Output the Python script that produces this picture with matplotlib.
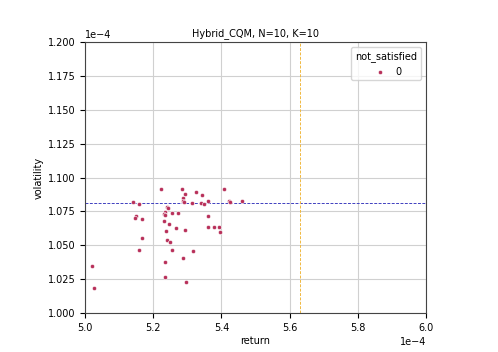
import numpy as np
import matplotlib.pyplot as plt
import matplotlib.ticker as mticker

# returns (x 1e-4) and volatility (x 1e-4)
ret = [5.020, 5.026, 5.223, 5.284, 5.293, 5.326, 5.344, 5.408, 5.141, 5.159,
       5.288, 5.288, 5.291, 5.314, 5.340, 5.348, 5.361, 5.422, 5.425, 5.460,
       5.241, 5.244, 5.235, 5.233, 5.234, 5.255, 5.272, 5.150, 5.148, 5.166,
       5.362, 5.231, 5.247, 5.268, 5.294, 5.238, 5.361, 5.377, 5.392, 5.395,
       5.167, 5.240, 5.250, 5.159, 5.255, 5.318, 5.287, 5.234, 5.235, 5.297]
vol = [1.0345, 1.0187, 1.0913, 1.0913, 1.0878, 1.0893, 1.0871, 1.0913, 1.0817, 1.0807,
       1.0847, 1.0827, 1.0821, 1.0812, 1.0812, 1.0802, 1.0827, 1.0827, 1.0817, 1.0827,
       1.0782, 1.0777, 1.0745, 1.0733, 1.0721, 1.0738, 1.0738, 1.0718, 1.0699, 1.0692,
       1.0714, 1.0681, 1.0657, 1.0625, 1.0610, 1.0603, 1.0632, 1.0632, 1.0637, 1.0600,
       1.0551, 1.0537, 1.0526, 1.0463, 1.0463, 1.0460, 1.0406, 1.0376, 1.0268, 1.0227]

target_vol = 1.0815   # blue dashed line
target_ret = 5.63     # orange dashed line

x = np.array(ret) * 1e-4
y = np.array(vol) * 1e-4


class FixedSci(mticker.ScalarFormatter):
    # sci notation with a fixed number of decimals
    def __init__(self, fmt):
        super().__init__()
        self._f = fmt

    def _set_format(self):
        self.format = self._f


plt.rcParams['font.size'] = 7

fig = plt.figure(figsize=(4.98, 3.52), dpi=100)
ax = fig.add_axes([85 / 498, 39 / 352, 341 / 498, 271 / 352])

ax.scatter(x, y, s=9, color="#b8305a", edgecolor="white", linewidth=0.4,
           label="0", zorder=3)
ax.axhline(target_vol * 1e-4, color="#4040c0", linestyle=(0, (3, 1.5)), linewidth=0.7, zorder=2)
ax.axvline(target_ret * 1e-4, color="#f0b840", linestyle=(0, (3, 1.5)), linewidth=0.7, zorder=2)

ax.set_xlim(5.0e-4, 6.0e-4)
ax.set_ylim(1.0e-4, 1.2e-4)
ax.set_xticks(np.arange(5.0, 6.01, 0.2) * 1e-4)
ax.set_yticks(np.arange(1.0, 1.201, 0.025) * 1e-4)
ax.xaxis.set_major_formatter(FixedSci("%1.1f"))
ax.yaxis.set_major_formatter(FixedSci("%1.3f"))
ax.ticklabel_format(style="sci", scilimits=(-4, -4), axis="both")

for s in ax.spines.values():
    s.set_color("#444444")
ax.grid(True, color="#d0d0d0", linewidth=0.8, zorder=0)
ax.set_axisbelow(True)
ax.set_xlabel("return", labelpad=2)
ax.set_ylabel("volatility", labelpad=3)
ax.set_title("Hybrid_CQM, N=10, K=10", fontsize=7, pad=4)
ax.legend(title="not_satisfied", loc="upper right", fontsize=7, title_fontsize=7,
          handletextpad=0.6)

fig.savefig("out.png", dpi=100)
